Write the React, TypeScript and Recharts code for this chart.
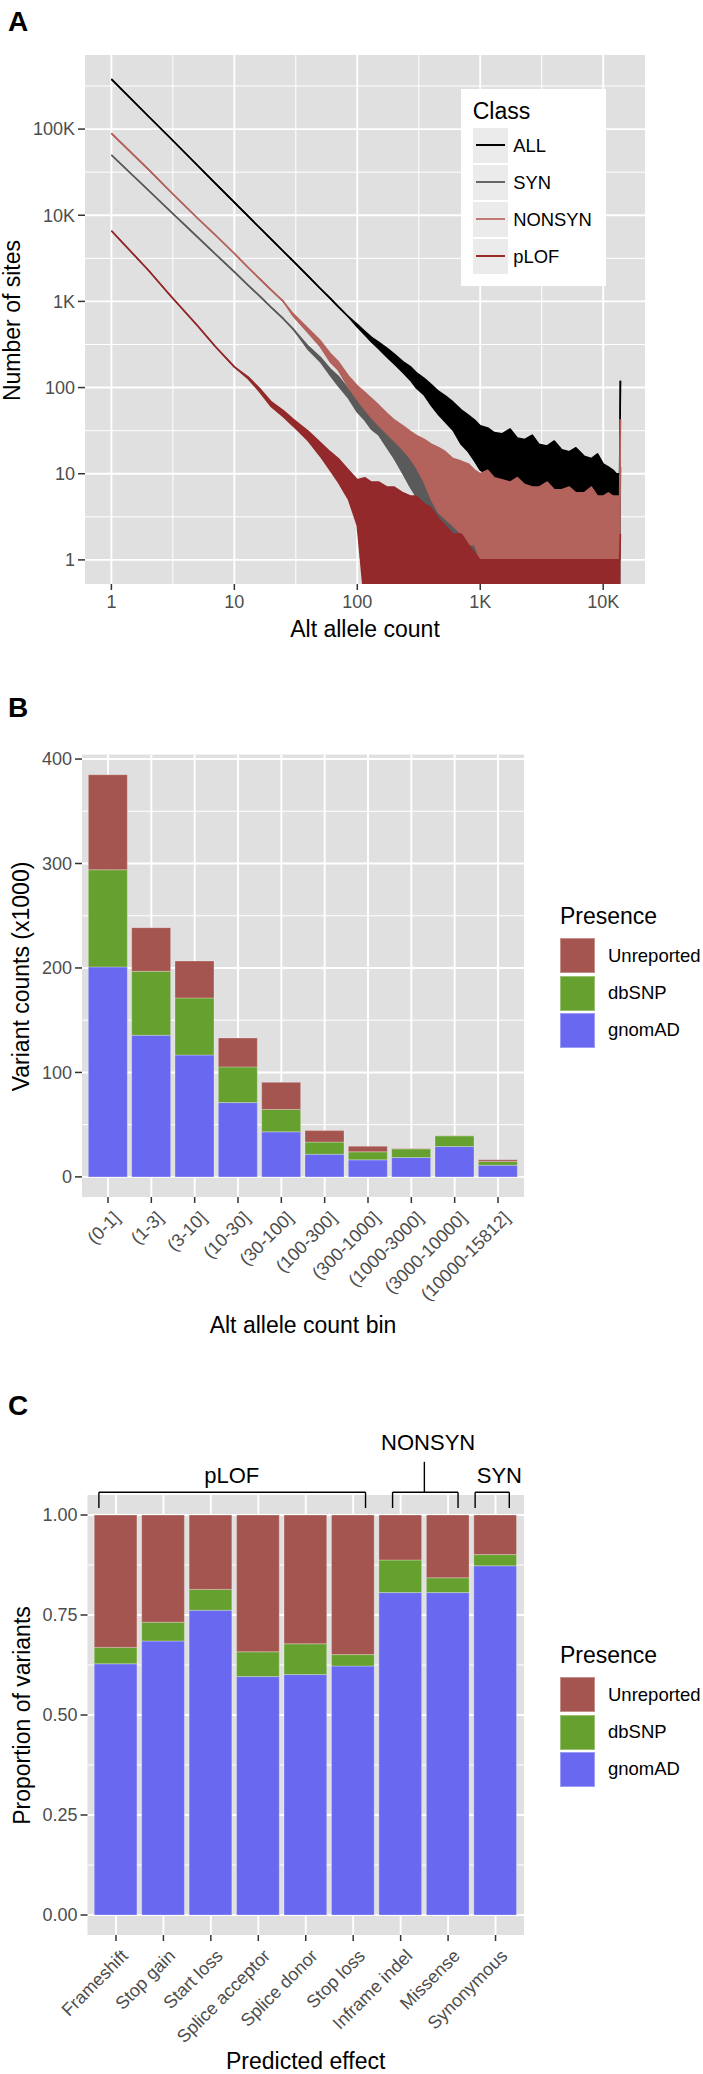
import React from 'react';
import {
  ComposedChart,
  Area,
  Bar,
  XAxis,
  YAxis,
  CartesianGrid,
  Legend,
  ReferenceLine,
  ReferenceDot,
} from 'recharts';

const FONT = '"Liberation Sans", Arial, Helvetica, sans-serif';
const PANEL_BG = '#E0E0E0';
const TICK_COLOR = '#4D4D4D';
const TICK_LINE = { stroke: '#333333', strokeWidth: 1.5 };

// ---------------- Panel A : site frequency spectrum ----------------
const alleleCounts = [
  1, 2, 3, 5, 7, 10, 13, 16, 20, 25, 30, 40, 50, 60, 70, 85, 100, 115, 130, 150,
  175, 200, 235, 270, 300, 350, 400, 460, 520, 600, 700, 800, 900, 1000, 1150, 1300, 1500, 1750, 2000, 2300,
  2650, 3000, 3500, 4000, 4600, 5300, 6000, 7000, 8000, 9000, 10000, 11000, 12000, 12800, 13600, 13800,
];
// upper / lower envelope of each noisy series (zero counts are drawn below the axis floor)
const allHigh = [
  380000, 141000, 79400, 38000, 23400, 14100, 9700, 7200, 5250, 3820, 2950, 1950, 1410, 1090, 870, 660, 540, 450, 385, 335,
  285, 245, 200, 175, 150, 128, 108, 90, 80, 68, 55, 48, 42, 36, 34, 30, 29, 33, 26, 25,
  28, 22, 21, 24, 19, 18, 20, 16, 15, 17, 13, 12, 11, 10, 10, 120,
];
const allLow = [
  380000, 141000, 79400, 38000, 23400, 14100, 9700, 7200, 5250, 3820, 2950, 1950, 1410, 1090, 870, 660, 505, 410, 340, 280,
  225, 188, 150, 122, 100, 82, 62, 48, 40, 32, 22, 18, 14, 11, 10, 9, 8, 7, 7, 6,
  6, 5.5, 5, 5, 5, 5, 4.5, 4.5, 4, 4, 4, 4, 4, 4, 4, 120,
];
const synHigh = [
  50000, 19500, 11200, 5600, 3550, 2200, 1530, 1160, 850, 630, 480, 300, 225, 165, 135, 95, 74, 60, 50, 44,
  34, 25, 19, 15, 12, 8, 5, 4, 3.5, 3, 2.5, 2, 2, 1.5, 1, 1, 1, 1, 1, 1,
  1, 1, 1, 1, 1, 1, 1, 1, 1, 1, 1, 1, 1, 1, 1, 12,
];
const synLow = [
  50000, 19500, 11200, 5600, 3550, 2200, 1530, 1160, 850, 630, 480, 275, 200, 140, 105, 75, 52, 42, 33, 28,
  20, 15, 10, 7, 5.5, 3.5, 2, 1, 0.3, 0.3, 0.3, 0.3, 0.3, 0.3, 0.3, 0.3, 0.3, 0.3, 0.3, 0.3,
  0.3, 0.3, 0.3, 0.3, 0.3, 0.3, 0.3, 0.3, 0.3, 0.3, 0.3, 0.3, 0.3, 0.3, 0.3, 12,
];
const nonsynHigh = [
  89000, 34000, 19000, 9300, 5900, 3600, 2460, 1840, 1350, 1000, 720, 480, 350, 250, 200, 135, 105, 88, 75, 62,
  50, 42, 36, 31, 28, 25, 22, 20, 18, 15, 14, 13, 11, 10, 11, 9, 8.5, 8, 9, 7.5,
  7, 7, 8, 6.5, 6.5, 7, 6, 6, 7, 5.5, 5.5, 6, 5.5, 5.5, 5.5, 43,
];
const nonsynLow = [
  89000, 34000, 19000, 9300, 5900, 3600, 2460, 1840, 1350, 1000, 680, 430, 300, 200, 160, 100, 72, 56, 45, 36,
  29, 24, 19, 15, 12, 8, 5, 3.5, 3, 2.5, 2, 1.5, 1.5, 1, 1, 1, 1, 1, 1, 1,
  1, 1, 1, 1, 1, 1, 1, 1, 1, 1, 1, 1, 1, 1, 1, 43,
];
const plofHigh = [
  6600, 2300, 1180, 525, 300, 174, 132, 98, 68, 54, 43, 31, 23, 18, 15, 11, 8.5, 9, 8, 8,
  7, 7, 6, 5.5, 5.5, 4.5, 4, 3, 2.5, 2, 2, 1.5, 1.2, 1, 1, 1, 1, 1, 1, 1,
  1, 1, 1, 1, 1, 1, 1, 1, 1, 1, 1, 1, 1, 1, 1, 2,
];
const plofLow = [
  6600, 2300, 1180, 525, 300, 174, 126, 90, 60, 46, 36, 24, 16, 11, 8, 5, 2.5, 0.3, 0.3, 0.3,
  0.3, 0.3, 0.3, 0.3, 0.3, 0.3, 0.3, 0.3, 0.3, 0.3, 0.3, 0.3, 0.3, 0.3, 0.3, 0.3, 0.3, 0.3, 0.3, 0.3,
  0.3, 0.3, 0.3, 0.3, 0.3, 0.3, 0.3, 0.3, 0.3, 0.3, 0.3, 0.3, 0.3, 0.3, 0.3, 0.3,
];

const classNames = ['ALL', 'SYN', 'NONSYN', 'pLOF'];
const classColors = ['#000000', '#5A5A5A', '#B3625C', '#93292A'];
const classLegendColors = ['#000000', '#666666', '#C27A74', '#9A2C27'];

const xMajorA = [1, 10, 100, 1000, 10000];
const xMinorA = [3.1623, 31.623, 316.23, 3162.3];
const yMajorA = [1, 10, 100, 1000, 10000, 100000];
const yMinorA = [3.1623, 31.623, 316.23, 3162.3, 31623, 316228];

const panelAData = alleleCounts.map((ac, i) => ({
  ac,
  ALL: [allLow[i], allHigh[i]],
  SYN: [synLow[i], synHigh[i]],
  NONSYN: [nonsynLow[i], nonsynHigh[i]],
  pLOF: [plofLow[i], plofHigh[i]],
}));

const fmtK = (v: number) => (v >= 1000 ? `${Math.round(v / 1000)}K` : `${v}`);

// ---------------- Panel B : counts by alt allele count bin ----------------
const bins = ['(0-1]', '(1-3]', '(3-10]', '(10-30]', '(30-100]', '(100-300]', '(300-1000]', '(1000-3000]', '(3000-10000]', '(10000-15812]'];
const gnomadB = [201, 135.6, 116.7, 71.1, 43.1, 21.7, 16.3, 18.5, 29, 11.2];
const dbsnpB = [93, 61.2, 54.6, 34.2, 21.5, 11.6, 7.7, 8.3, 10.3, 3.5];
const unreportedB = [91, 41.8, 35.4, 27.7, 25.9, 11, 5.4, 0.4, 0.3, 1.6];
const yTicksB = [0, 100, 200, 300, 400];
const yMinorB = [50, 150, 250, 350];

const panelBData = bins.map((bin, i) => ({
  pos: i + 1,
  bin,
  gnomAD: gnomadB[i],
  dbSNP: dbsnpB[i],
  Unreported: unreportedB[i],
}));

// ---------------- Panel C : proportions by predicted effect ----------------
const effects = ['Frameshift', 'Stop gain', 'Start loss', 'Splice acceptor', 'Splice donor', 'Stop loss', 'Inframe indel', 'Missense', 'Synonymous'];
const gnomadC = [0.628, 0.685, 0.762, 0.596, 0.601, 0.6225, 0.806, 0.806, 0.873];
const dbsnpC = [0.041, 0.047, 0.052, 0.062, 0.077, 0.0285, 0.0815, 0.037, 0.028];
const unreportedC = [0.331, 0.268, 0.186, 0.342, 0.322, 0.349, 0.1125, 0.157, 0.099];
const yTicksC = [0, 0.25, 0.5, 0.75, 1];
const yMinorC = [0.125, 0.375, 0.625, 0.875];

const panelCData = effects.map((effect, i) => ({
  pos: i + 1,
  effect,
  gnomAD: gnomadC[i],
  dbSNP: dbsnpC[i],
  Unreported: unreportedC[i],
}));

// brackets above panel C (in axis units)
const bracketNames = ['pLOF', 'NONSYN', 'SYN'];
const bracketFrom = [0.64, 6.83, 8.57];
const bracketTo = [6.26, 8.21, 9.29];
const bracketLabelX = [3.44, 7.58, 9.08];
const bracketLabelY = [1.1, 1.183, 1.1];
const bracketBarY = 1.057;
const bracketLegY = 1.0175;
const nonsynStemX = 7.5;
const nonsynStemTop = 1.133;

const presenceNames = ['Unreported', 'dbSNP', 'gnomAD'];
const presenceColors = ['#A5554F', '#66A02E', '#6868F0'];

// ---------------- helpers ----------------
// cy = vertical centre of the capital letters; lh = css line height
const HText = ({ cx, cy, size, children, bold = false, left, lh }: any) => {
  const lineH = lh !== undefined ? lh : size;
  const baseline = cy + 0.358 * size;
  const top = baseline - ((lineH - 1.117 * size) / 2 + 0.905 * size);
  return (
    <div
      style={{
        position: 'absolute',
        left: left !== undefined ? left : cx - 200,
        top,
        width: left !== undefined ? undefined : 400,
        height: lineH,
        textAlign: left !== undefined ? 'left' : 'center',
        fontSize: size,
        lineHeight: `${lineH}px`,
        fontWeight: bold ? 'bold' : 'normal',
        fontFamily: FONT,
        color: '#000',
        whiteSpace: 'nowrap',
      }}
    >
      {children}
    </div>
  );
};

const VText = ({ cx, cy, size, children }: any) => (
  <div
    style={{
      position: 'absolute',
      left: cx - 200,
      top: cy - size / 2,
      width: 400,
      height: size,
      textAlign: 'center',
      fontSize: size,
      lineHeight: `${size}px`,
      fontFamily: FONT,
      color: '#000',
      transform: 'rotate(-90deg)',
      transformOrigin: '50% 50%',
      whiteSpace: 'nowrap',
    }}
  >
    {children}
  </div>
);

const RotTick = ({ x, y, payload, labels }: any) => (
  <g transform={`translate(${x + 4},${y + 7})`}>
    <text
      textAnchor="end"
      transform="rotate(-45)"
      fontSize={18}
      fill={TICK_COLOR}
      fontFamily={FONT}
      dy="0.71em"
    >
      {labels[payload.value - 1]}
    </text>
  </g>
);

const ClassLegend = () => (
  <div style={{ position: 'relative', width: 145, height: 197, background: '#FFFFFF', fontFamily: FONT }}>
    <div style={{ position: 'absolute', left: 12, top: 21.7 - 0.488 * 23, fontSize: 23, lineHeight: '23px', color: '#000' }}>Class</div>
    {classNames.map((name, i) => (
      <React.Fragment key={name}>
        <div style={{ position: 'absolute', left: 12.3, top: 38.7 + i * 37, width: 35, height: 35, background: '#EBEBEB' }}>
          <div style={{ position: 'absolute', left: 3, top: 16.5, width: 29, height: 2, background: classLegendColors[i] }} />
        </div>
        <div
          style={{
            position: 'absolute',
            left: 52.5,
            top: 38.7 + i * 37 + 17.5 - 0.488 * 18.4,
            fontSize: 18.4,
            lineHeight: '18.4px',
            color: '#000',
            whiteSpace: 'nowrap',
          }}
        >
          {name}
        </div>
      </React.Fragment>
    ))}
  </div>
);

const PresenceLegend = () => (
  <div style={{ position: 'relative', width: 143, height: 160, fontFamily: FONT }}>
    <div style={{ position: 'absolute', left: 0, top: 20 - 0.488 * 23, fontSize: 23, lineHeight: '23px', color: '#000' }}>Presence</div>
    {presenceNames.map((name, i) => (
      <React.Fragment key={name}>
        <div
          style={{
            position: 'absolute',
            left: 0,
            top: 42.3 + i * 37.2,
            width: 35,
            height: 35,
            background: presenceColors[i],
            boxShadow: 'inset 0 0 0 1px rgba(255,255,255,0.35)',
          }}
        />
        <div
          style={{
            position: 'absolute',
            left: 48,
            top: 42.3 + i * 37.2 + 17.5 - 0.488 * 18.5,
            fontSize: 18.5,
            lineHeight: '18.5px',
            color: '#000',
            whiteSpace: 'nowrap',
          }}
        >
          {name}
        </div>
      </React.Fragment>
    ))}
  </div>
);

const tickStyle = { fontSize: 18, fill: TICK_COLOR, fontFamily: FONT };

// ---------------- Panel A ----------------
const PanelA = () => (
  <ComposedChart width={703} height={650} data={panelAData} margin={{ top: 55, right: 58, bottom: 26, left: 0 }}>
    <CartesianGrid fill={PANEL_BG} stroke="#FFFFFF" strokeWidth={1} horizontalValues={yMinorA} verticalValues={xMinorA} />
    <CartesianGrid stroke="#FFFFFF" strokeWidth={1.9} horizontalValues={yMajorA} verticalValues={xMajorA} />
    <XAxis
      dataKey="ac"
      type="number"
      scale="log"
      domain={[0.61, 21878]}
      allowDataOverflow
      ticks={xMajorA}
      tickFormatter={fmtK}
      interval={0}
      height={40}
      tickSize={6}
      tickMargin={5}
      axisLine={false}
      tickLine={TICK_LINE}
      tick={tickStyle}
    />
    <YAxis
      type="number"
      scale="log"
      domain={[0.525, 724000]}
      allowDataOverflow
      ticks={yMajorA}
      tickFormatter={fmtK}
      interval={0}
      width={85}
      tickSize={7}
      tickMargin={3}
      axisLine={false}
      tickLine={TICK_LINE}
      tick={tickStyle}
    />
    {classNames.map((name, i) => (
      <Area
        key={name}
        type="linear"
        dataKey={name}
        stroke={classColors[i]}
        strokeWidth={1.6}
        strokeLinejoin="round"
        fill={classColors[i]}
        fillOpacity={1}
        dot={false}
        activeDot={false}
        isAnimationActive={false}
      />
    ))}
    <Legend
      layout="horizontal"
      verticalAlign="middle"
      align="center"
      content={() => <ClassLegend />}
      wrapperStyle={{ left: 460.7, top: 89.3, width: 146, height: 197 }}
    />
  </ComposedChart>
);

// ---------------- Panel B ----------------
const PanelB = () => (
  <ComposedChart width={703} height={600} data={panelBData} margin={{ top: 14.6, right: 179, bottom: 33, left: 0 }}>
    <CartesianGrid fill={PANEL_BG} stroke="#FFFFFF" strokeWidth={1} horizontalValues={yMinorB} vertical={false} />
    <CartesianGrid stroke="#FFFFFF" strokeWidth={1.9} horizontalValues={yTicksB} verticalValues={panelBData.map((d) => d.pos)} />
    <XAxis
      dataKey="pos"
      type="number"
      domain={[0.4, 10.6]}
      allowDataOverflow
      ticks={panelBData.map((d) => d.pos)}
      interval={0}
      height={110}
      tickSize={6}
      tickMargin={0}
      axisLine={false}
      tickLine={TICK_LINE}
      tick={(p: any) => <RotTick {...p} labels={bins} />}
    />
    <YAxis
      type="number"
      domain={[-19.25, 404.25]}
      allowDataOverflow
      ticks={yTicksB}
      interval={0}
      width={82}
      tickSize={7}
      tickMargin={3}
      axisLine={false}
      tickLine={TICK_LINE}
      tick={tickStyle}
    />
    {['gnomAD', 'dbSNP', 'Unreported'].map((key) => (
      <Bar
        key={key}
        dataKey={key}
        stackId="s"
        barSize={39}
        fill={presenceColors[presenceNames.indexOf(key)]}
        stroke="rgba(255,255,255,0.35)"
        strokeWidth={0.8}
        isAnimationActive={false}
      />
    ))}
    <Legend
      layout="horizontal"
      verticalAlign="middle"
      align="center"
      content={() => <PresenceLegend />}
      wrapperStyle={{ left: 560, top: 156, width: 143, height: 160 }}
    />
  </ComposedChart>
);

// ---------------- Panel C ----------------
const bracketLines: any[] = [];
bracketNames.forEach((name, i) => {
  bracketLines.push(
    <ReferenceLine key={`${name}-h`} segment={[{ x: bracketFrom[i], y: bracketBarY }, { x: bracketTo[i], y: bracketBarY }]} stroke="#000" strokeWidth={1.4} ifOverflow="visible" />,
    <ReferenceLine key={`${name}-l`} segment={[{ x: bracketFrom[i], y: bracketBarY }, { x: bracketFrom[i], y: bracketLegY }]} stroke="#000" strokeWidth={1.4} ifOverflow="visible" />,
    <ReferenceLine key={`${name}-r`} segment={[{ x: bracketTo[i], y: bracketBarY }, { x: bracketTo[i], y: bracketLegY }]} stroke="#000" strokeWidth={1.4} ifOverflow="visible" />,
    <ReferenceDot
      key={`${name}-t`}
      x={bracketLabelX[i]}
      y={bracketLabelY[i]}
      r={0}
      fill="none"
      stroke="none"
      ifOverflow="visible"
      label={{ value: name, position: 'center', fontSize: 22, fill: '#000', fontFamily: FONT }}
    />
  );
});
bracketLines.push(
  <ReferenceLine key="nonsyn-stem" segment={[{ x: nonsynStemX, y: bracketBarY }, { x: nonsynStemX, y: nonsynStemTop }]} stroke="#000" strokeWidth={1.4} ifOverflow="visible" />
);

const PanelC = () => (
  <ComposedChart width={703} height={654} data={panelCData} margin={{ top: 75, right: 179, bottom: 29, left: 0 }}>
    <CartesianGrid fill={PANEL_BG} stroke="#FFFFFF" strokeWidth={1} horizontalValues={yMinorC} vertical={false} />
    <CartesianGrid stroke="#FFFFFF" strokeWidth={1.9} horizontalValues={yTicksC} verticalValues={panelCData.map((d) => d.pos)} />
    <XAxis
      dataKey="pos"
      type="number"
      domain={[0.4, 9.6]}
      allowDataOverflow
      ticks={panelCData.map((d) => d.pos)}
      interval={0}
      height={110}
      tickSize={6}
      tickMargin={0}
      axisLine={false}
      tickLine={TICK_LINE}
      tick={(p: any) => <RotTick {...p} labels={effects} />}
    />
    <YAxis
      type="number"
      domain={[-0.05, 1.05]}
      allowDataOverflow
      ticks={yTicksC}
      tickFormatter={(v: number) => v.toFixed(2)}
      interval={0}
      width={87.5}
      tickSize={7}
      tickMargin={3}
      axisLine={false}
      tickLine={TICK_LINE}
      tick={tickStyle}
    />
    {['gnomAD', 'dbSNP', 'Unreported'].map((key) => (
      <Bar
        key={key}
        dataKey={key}
        stackId="s"
        barSize={42.7}
        fill={presenceColors[presenceNames.indexOf(key)]}
        stroke="rgba(255,255,255,0.35)"
        strokeWidth={0.8}
        isAnimationActive={false}
      />
    ))}
    {bracketLines}
    <Legend
      layout="horizontal"
      verticalAlign="middle"
      align="center"
      content={() => <PresenceLegend />}
      wrapperStyle={{ left: 560, top: 215, width: 143, height: 160 }}
    />
  </ComposedChart>
);

export default function App() {
  return (
    <div style={{ position: 'absolute', left: 0, top: 0, width: 703, height: 2074, background: '#FFFFFF', overflow: 'hidden', fontFamily: FONT }}>
      <div style={{ position: 'absolute', left: 0, top: 0 }}>
        <PanelA />
      </div>
      <div style={{ position: 'absolute', left: 0, top: 740 }}>
        <PanelB />
      </div>
      <div style={{ position: 'absolute', left: 0, top: 1420 }}>
        <PanelC />
      </div>

      <HText left={8} cy={22} size={28} bold>A</HText>
      <HText left={8} cy={708} size={28} bold>B</HText>
      <HText left={8} cy={1406} size={28} bold>C</HText>

      <VText cx={12} cy={320} size={23}>Number of sites</VText>
      <HText cx={365} cy={629.5} size={23}>Alt allele count</HText>

      <VText cx={21} cy={976} size={23}>Variant counts (x1000)</VText>
      <HText cx={303} cy={1325} size={23}>Alt allele count bin</HText>

      <VText cx={22} cy={1715} size={23}>Proportion of variants</VText>
      <HText cx={305.7} cy={2060.5} size={23} lh={16}>Predicted effect</HText>
    </div>
  );
}
